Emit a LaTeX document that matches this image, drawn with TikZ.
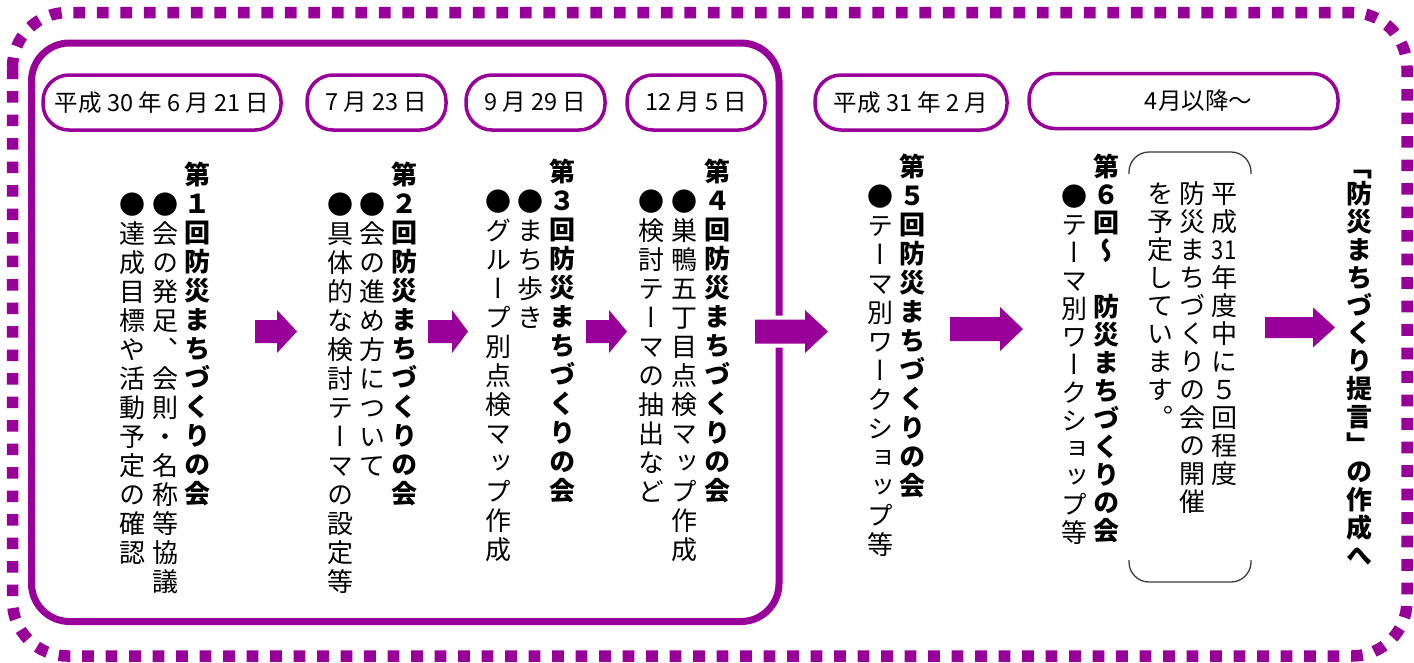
\documentclass[tikz,border=0pt]{standalone}
\usepackage{fontspec}
\usepackage{graphicx}
\newfontfamily\jpv{Noto Sans CJK JP}[RawFeature=+vert]
\newfontfamily\jph{Noto Sans CJK JP}
\definecolor{plum}{RGB}{153,0,153}
\definecolor{brk}{RGB}{60,60,60}
\newcommand\cjkstrut{\vrule width0pt height0.88em depth0.12em\relax}
\ExplSyntaxOn
\NewDocumentCommand\vt{O{29pt}m}{
  \vbox{\offinterlineskip
    \tl_map_inline:nn {#2}{
      \hbox_to_wd:nn {1em}{\cjkstrut\hss ##1 \hss}
      \skip_vertical:n {#1-1em}
    }
  }
}
\ExplSyntaxOff
\newcommand\tcy[1]{\scalebox{0.85}[1]{#1}}
\tikzset{
  vcol/.style={anchor=north, inner sep=0pt, font=\jpv\fontsize{26}{29}\selectfont},
  vtitle/.style={vcol, font=\jpv\bfseries\fontsize{26}{29}\selectfont},
  datebox/.style={draw=plum, line width=3.5pt, fill=white, rounded corners=26pt,
    minimum height=55pt, inner sep=0pt, font=\jph\fontsize{23.5}{25}\selectfont},
  outerframe/.style={draw=plum, line width=11.5pt, dash pattern=on 11.7pt off 11.8pt, rounded corners=55pt},
  innerframe/.style={draw=plum, line width=7pt, rounded corners=38pt},
  barrowstyle/.style={fill=plum, preaction={draw=white, line width=8pt}},
  bracket/.style={draw=brk, line width=1.3pt, rounded corners=20pt}
}
% x0, head start, tip, y centre, body half, head half
\newcommand\barrow[6]{\path[barrowstyle] (#1,{#4-#5}) -- (#2,{#4-#5}) -- (#2,{#4-#6}) -- (#3,#4) -- (#2,{#4+#6}) -- (#2,{#4+#5}) -- (#1,{#4+#5}) -- cycle;}
\begin{document}
\begin{tikzpicture}[x=1pt,y=-1pt]
\useasboundingbox (0,0) rectangle (1414,662);
\draw[outerframe] (12.5,12.5) rectangle (1407,656);
\draw[innerframe] (31.5,43) rectangle (779,621.5);

% date boxes
\node[datebox, minimum width=238pt] (d1) at (162,102.5) {平成 30 年 6 月 21 日};
\node[datebox, minimum width=139pt] (d2) at (376.5,102.5) {7 月 23 日};
\node[datebox, minimum width=139pt] (d3) at (535.5,102.5) {9 月 29 日};
\node[datebox, minimum width=138pt] (d4) at (696,102.5) {12 月 5 日};
\node[datebox, minimum width=192pt] (d5) at (911,102.5) {平成 31 年 2 月};
\node[datebox, minimum width=309pt] (d6) at (1183.5,101) {\hspace*{30pt}4月以降～};

% meeting 1
\node[vtitle] (t1) at (197.5,161) {\vt{第１回防災まちづくりの会}};
\node[vcol] (b1a) at (165,191) {\vt{●会の発足、会則・名称等協議}};
\node[vcol] (b1b) at (132,191) {\vt{●達成目標や活動予定の確認}};
% meeting 2
\node[vtitle] (t2) at (404,161) {\vt{第２回防災まちづくりの会}};
\node[vcol] (b2a) at (372,191) {\vt{●会の進め方について}};
\node[vcol] (b2b) at (340,191) {\vt{●具体的な検討テーマの設定等}};
% meeting 3
\node[vtitle] (t3) at (562,158) {\vt{第３回防災まちづくりの会}};
\node[vcol] (b3a) at (530,188) {\vt{●まち歩き}};
\node[vcol] (b3b) at (498,188) {\vt{●グループ別点検マップ作成}};
% meeting 4
\node[vtitle] (t4) at (717,158) {\vt{第４回防災まちづくりの会}};
\node[vcol] (b4a) at (684,188) {\vt{●巣鴨五丁目点検マップ作成}};
\node[vcol] (b4b) at (651,188) {\vt{●検討テーマの抽出など}};
% meeting 5
\node[vtitle] (t5) at (912,153) {\vt{第５回防災まちづくりの会}};
\node[vcol] (b5) at (880,183) {\vt{●テーマ別ワークショップ等}};
% meeting 6
\node[vtitle] (t6) at (1106,153) {\vt[28pt]{第６回～　防災まちづくりの会}};
\node[vcol] (b6) at (1074,183) {\vt[28pt]{●テーマ別ワークショップ等}};
% note in bracket
\node[vcol] (n1) at (1224,180) {\vt[28pt]{平成{\tcy{31}}年度中に５回程度}};
\node[vcol] (n2) at (1192,180) {\vt[28pt]{防災まちづくりの会の開催}};
\node[vcol] (n3) at (1160,180) {\vt[28pt]{を予定しています。}};
\draw[bracket] (1129,174) -- (1129,152) -- (1251,152) -- (1251,174);
\draw[bracket] (1129,560) -- (1129,582) -- (1251,582) -- (1251,560);
% final
\node[vtitle] (fin) at (1359,153) {\vt[27.8pt]{「防災まちづくり提言」の作成へ}};

% arrows
\barrow{255}{277}{297}{331.5}{11.5}{21.5}
\barrow{428}{452}{468}{331.5}{11.5}{21.5}
\barrow{586}{609}{627}{331.5}{11.5}{21.5}
\barrow{755}{805}{828}{331.5}{12}{21.5}
\barrow{950}{1000}{1023}{329}{12}{22}
\barrow{1265}{1313}{1335}{327.5}{10.5}{20}
\end{tikzpicture}
\end{document}
